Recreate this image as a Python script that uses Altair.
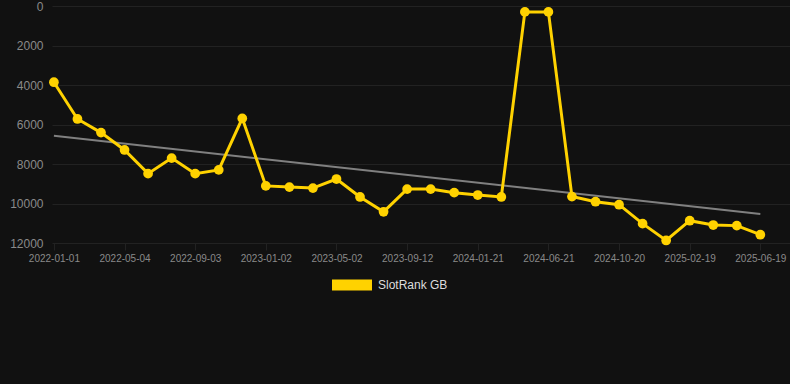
import altair as alt
import pandas as pd

dates = [
    "2022-01-01", "2022-02-11", "2022-03-24", "2022-05-04", "2022-06-14", "2022-07-24",
    "2022-09-03", "2022-10-13", "2022-11-23", "2023-01-02", "2023-02-11", "2023-03-23",
    "2023-05-02", "2023-06-15", "2023-07-29", "2023-09-12", "2023-10-26", "2023-12-08",
    "2024-01-21", "2024-03-11", "2024-05-01", "2024-06-21", "2024-07-31", "2024-09-10",
    "2024-10-20", "2024-11-30", "2025-01-09", "2025-02-19", "2025-03-31", "2025-05-10",
    "2025-06-19",
]
ranks = [
    3860, 5720, 6410, 7290, 8490, 7700, 8490, 8300, 5690, 9110, 9170, 9220,
    8760, 9670, 10420, 9270, 9270, 9450, 9570, 9670, 300, 300, 9650, 9910,
    10060, 11020, 11870, 10870, 11090, 11120, 11580,
]
tick_labels = [
    "2022-01-01", "2022-05-04", "2022-09-03", "2023-01-02", "2023-05-02", "2023-09-12",
    "2024-01-21", "2024-06-21", "2024-10-20", "2025-02-19", "2025-06-19",
]
trend_dates = ["2022-01-01", "2025-06-19"]
trend_values = [6570, 10530]
series_name = "SlotRank GB"
y_ticks = [0, 2000, 4000, 6000, 8000, 10000, 12000]

GOLD = "#FFD200"
GRID = "#222222"
df = pd.DataFrame({"date": dates, "rank": ranks, "series": series_name})
trend = pd.DataFrame({"date": trend_dates, "rank": trend_values})

x_scale = alt.Scale(type="point", domain=dates, padding=0.67, align=0.06)
y_scale = alt.Scale(domain=[0, 12000], reverse=True, nice=False)

x_axis = alt.Axis(
    values=tick_labels, title=None, labelAngle=0, labelFontSize=10, labelColor="#8a8a8a",
    labelFont="Liberation Sans", tickSize=7, tickColor=GRID, gridColor=GRID,
    domain=False, labelPadding=3,
)
y_axis = alt.Axis(
    values=y_ticks, title=None, labelFontSize=12, labelColor="#8a8a8a", format="d",
    labelFont="Liberation Sans", ticks=False, gridColor=GRID, domain=False,
    labelPadding=9,
)

base = alt.Chart(df)

trend_line = alt.Chart(trend).mark_line(color="#808080", strokeWidth=2).encode(
    x=alt.X("date:O", scale=x_scale, axis=x_axis),
    y=alt.Y("rank:Q", scale=y_scale, axis=y_axis),
)

line = base.mark_line(strokeWidth=3, color=GOLD).encode(
    x=alt.X("date:O", scale=x_scale, axis=x_axis),
    y=alt.Y("rank:Q", scale=y_scale, axis=y_axis),
)

points = base.mark_point(filled=True, size=95, opacity=1).encode(
    x=alt.X("date:O", scale=x_scale, axis=x_axis),
    y=alt.Y("rank:Q", scale=y_scale, axis=y_axis),
    color=alt.Color(
        "series:N",
        scale=alt.Scale(domain=[series_name], range=[GOLD]),
        legend=alt.Legend(
            title=None, orient="none", legendX=280, legendY=259, padding=0,
            symbolType="M-1,-0.28L1,-0.28L1,0.28L-1,0.28Z", symbolSize=1600,
            symbolStrokeWidth=0, symbolOpacity=1, symbolFillColor=GOLD,
            labelColor="#dddddd", labelFontSize=12, labelFont="Liberation Sans",
            labelOffset=6,
        ),
    ),
)

chart = alt.layer(trend_line, line, points).properties(
    width=738, height=237,
    autosize=alt.AutoSizeParams(type="none"),
    padding={"left": 52, "top": 6, "right": 0, "bottom": 141},
    background="#111111",
).configure_view(stroke=None)

chart.save("out.html", embed_options={"renderer": "svg", "actions": False})
